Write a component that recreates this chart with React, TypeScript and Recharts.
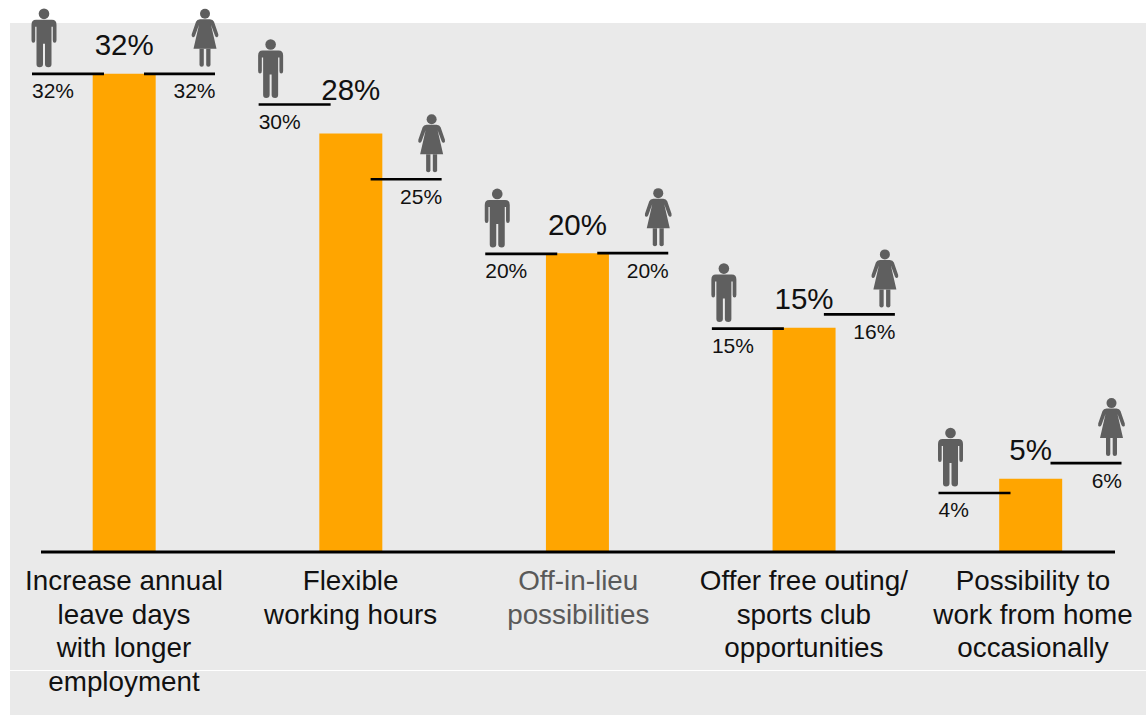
import { ComposedChart, Bar, Line, XAxis, YAxis, LabelList } from "recharts";

const categories = [
  "Increase annual\nleave days\nwith longer\nemployment",
  "Flexible\nworking hours",
  "Off-in-lieu\npossibilities",
  "Offer free outing/\nsports club\nopportunities",
  "Possibility to\nwork from home\noccasionally",
];
const totalValues = [32, 28, 20, 15, 4.9];
const totalLabels = ["32%", "28%", "20%", "15%", "5%"];
// the printed labels are these rounded
const maleValues = [32, 29.95, 19.95, 14.95, 3.95];
const femaleValues = [32, 24.95, 20, 15.9, 5.95];

const tableData = categories.map((name, i) => ({
  name,
  total: totalValues[i],
  totalLabel: totalLabels[i],
  male: maleValues[i],
  female: femaleValues[i],
}));

const FONT = "'Liberation Sans', Arial, sans-serif";
const ICON = "#5f5f5f";
const INK = "#111";

function ManIcon({ x, y }: { x: number; y: number }) {
  // x is the middle of the figure, y the line it stands above
  return (
    <g transform={`translate(${x},${y})`} fill={ICON}>
      <circle cx={0} cy={-60} r={5.3} />
      <path d="M-8,-54 H8 Q12.5,-54 12.5,-49 V-33.5 Q12.5,-31 10.6,-31 Q8.8,-31 8.8,-33.5 V-47 H7.5 V-9.5 Q7.5,-6.5 4.5,-6.5 Q1,-6.5 1,-9.5 V-30 H-1 V-9.5 Q-1,-6.5 -4.5,-6.5 Q-7.5,-6.5 -7.5,-9.5 V-47 H-8.8 V-33.5 Q-8.8,-31 -10.6,-31 Q-12.5,-31 -12.5,-33.5 V-49 Q-12.5,-54 -8,-54 Z" />
    </g>
  );
}

function WomanIcon({ x, y }: { x: number; y: number }) {
  return (
    <g transform={`translate(${x},${y})`} fill={ICON}>
      <circle cx={0} cy={-60} r={5} />
      <path d="M-5,-54.5 H5 Q8,-54.5 9,-52 L13.3,-39.5 Q13.8,-37 12.2,-36.5 Q10.8,-36.3 10,-38 L6,-49 L11.5,-25 H-11.5 L-6,-49 L-10,-38 Q-10.8,-36.3 -12.2,-36.5 Q-13.8,-37 -13.3,-39.5 L-9,-52 Q-8,-54.5 -5,-54.5 Z" />
      <path d="M-5.5,-25 H-1.2 V-9 Q-1.2,-7 -3.3,-7 Q-5.5,-7 -5.5,-9 Z" />
      <path d="M1.2,-25 H5.5 V-9 Q5.5,-7 3.3,-7 Q1.2,-7 1.2,-9 Z" />
    </g>
  );
}

function MaleMark(props: any) {
  const { cx, cy, index } = props;
  const x1 = cx - 92;
  return (
    <g key={`male-${index}`}>
      <ManIcon x={x1 + 12} y={cy} />
      <line x1={x1} x2={cx - 20} y1={cy} y2={cy} stroke="#000" strokeWidth={2.6} />
      <text x={x1} y={cy + 24.5} fontFamily={FONT} fontSize={21} fill={INK}>
        {Math.round(maleValues[index])}%
      </text>
    </g>
  );
}

function FemaleMark(props: any) {
  const { cx, cy, index } = props;
  const x2 = cx + 91;
  return (
    <g key={`female-${index}`}>
      <WomanIcon x={x2 - 10} y={cy} />
      <line x1={cx + 20} x2={x2} y1={cy} y2={cy} stroke="#000" strokeWidth={2.6} />
      <text x={x2 + 0.5} y={cy + 24.5} textAnchor="end" fontFamily={FONT} fontSize={21} fill={INK}>
        {Math.round(femaleValues[index])}%
      </text>
    </g>
  );
}

function TotalLabel(props: any) {
  const { x, y, width, index } = props;
  // the 28% sits higher so it clears the male line beside it
  const lift = maleValues[index] > totalValues[index] ? 34 : 18.5;
  return (
    <text
      x={x + width / 2}
      y={y - lift}
      textAnchor="middle"
      fontFamily={FONT}
      fontSize={29.5}
      fill={INK}
    >
      {totalLabels[index]}
    </text>
  );
}

function CategoryTick(props: any) {
  const { x, y, payload, index } = props;
  const lines = String(payload.value).split("\n");
  const muted = lines[0] === "Off-in-lieu";
  // the text boxes drift slightly right of the bars towards the end
  const nudge = index >= 4 ? 2.5 : muted ? 1 : 0;
  return (
    <text textAnchor="middle" fontFamily={FONT} fontSize={27.8} fill={muted ? "#595959" : INK}>
      {lines.map((line, i) => (
        <tspan key={line} x={x + nudge} y={y + 30 + i * 33.6}>
          {line}
        </tspan>
      ))}
    </text>
  );
}

export default function App() {
  return (
    <div style={{ position: "absolute", left: 0, top: 0, width: 1146, height: 715, background: "#fff", overflow: "hidden" }}>
      <div style={{ position: "absolute", left: 10, top: 23, right: 0, bottom: 0, background: "#eaeaea" }} />
      <div style={{ position: "absolute", left: 10, top: 670, right: 0, height: 1, background: "#fff" }} />
      <div style={{ position: "absolute", left: 0, top: 0 }}>
        <ComposedChart
          width={1146}
          height={715}
          data={tableData}
          margin={{ top: 29, right: 31, bottom: 133, left: 41 }}
        >
          <XAxis
            dataKey="name"
            scale="point"
            padding={{ left: 83, right: 84.5 }}
            interval={0}
            height={30}
            tickLine={false}
            axisLine={{ stroke: "#000", strokeWidth: 3 }}
            tick={<CategoryTick />}
          />
          <YAxis hide domain={[0, 35]} />
          <Bar dataKey="total" fill="#ffa500" barSize={63} isAnimationActive={false}>
            <LabelList dataKey="totalLabel" content={<TotalLabel />} />
          </Bar>
          <Line dataKey="male" stroke="none" dot={(p: any) => <MaleMark {...p} />} activeDot={false} isAnimationActive={false} />
          <Line dataKey="female" stroke="none" dot={(p: any) => <FemaleMark {...p} />} activeDot={false} isAnimationActive={false} />
        </ComposedChart>
      </div>
    </div>
  );
}
